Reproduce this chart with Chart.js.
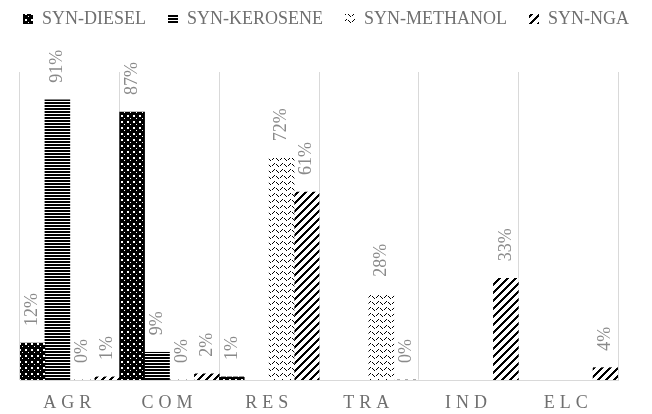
<!DOCTYPE html>
<html>
<head>
<meta charset="utf-8">
<script src="https://cdn.jsdelivr.net/npm/chart.js@4"></script>
<style>
html,body{margin:0;padding:0;background:#fff;}
#wrap{width:652px;height:414px;}
</style>
</head>
<body>
<div id="wrap"><canvas id="c" width="652" height="414"></canvas></div>
<script>
const categories = ["AGR", "COM", "RES", "TRA", "IND", "ELC"];
const seriesNames = ["SYN-DIESEL", "SYN-KEROSENE", "SYN-METHANOL", "SYN-NGA"];
const synDiesel   = [12, 87, 1, null, null, null];
const synKerosene = [91, 9, null, null, null, null];
const synMethanol = [0, 0, 72, 28, null, null];
const synNGA      = [1, 2, 61, 0, 33, 4];
const yTicks = [0, 100];

function makePattern(w, h, painter) {
  const cv = document.createElement('canvas');
  cv.width = w; cv.height = h;
  const g = cv.getContext('2d');
  painter(g, w, h);
  return g.createPattern(cv, 'repeat');
}
const pDiesel = makePattern(6, 6, (g) => {
  g.fillStyle = '#000'; g.fillRect(0, 0, 6, 6);
  g.fillStyle = '#fff'; g.fillRect(1, 1, 2, 2); g.fillRect(4, 4, 1, 1);
});
const pKerosene = makePattern(3, 3, (g) => {
  g.fillStyle = '#fff'; g.fillRect(0, 0, 3, 3);
  g.fillStyle = '#000'; g.fillRect(0, 0, 3, 2);
});
const pMethanol = makePattern(8, 6, (g) => {
  g.fillStyle = '#fff'; g.fillRect(0, 0, 8, 6);
  g.fillStyle = '#000';
  const ys = [3, 2, 1, 1, 2, 3, 4, 4];
  for (let x = 0; x < 8; x++) { if (x % 4 !== 3) g.fillRect(x, ys[x], 1, 1); }
});
const pNGA = makePattern(8, 8, (g) => {
  g.fillStyle = '#fff'; g.fillRect(0, 0, 8, 8);
  g.fillStyle = '#000';
  for (let x = 0; x < 8; x++) for (let y = 0; y < 8; y++) {
    if ((x + y) % 8 < 3) g.fillRect(x, y, 1, 1);
  }
});

const labelPlugin = {
  id: 'vlabels',
  afterDatasetsDraw(chart) {
    const ctx = chart.ctx;
    ctx.save();
    ctx.font = '18px "Liberation Serif"';
    ctx.fillStyle = '#8a8a8a';
    ctx.textAlign = 'left';
    ctx.textBaseline = 'middle';
    chart.data.datasets.forEach((ds, i) => {
      const meta = chart.getDatasetMeta(i);
      meta.data.forEach((bar, j) => {
        const v = ds.data[j];
        if (v === null || v === undefined) return;
        ctx.save();
        ctx.translate(bar.x, bar.y - 17);
        ctx.rotate(-Math.PI / 2);
        ctx.fillText(v + '%', 0, 0);
        ctx.restore();
      });
    });
    ctx.restore();
  }
};

const legendGap = {
  id: 'legendGap',
  beforeInit(chart) {
    const orig = chart.legend.fit;
    chart.legend.fit = function () { orig.call(this); this.height += 34; };
  },
  afterLayout(chart) {
    const sx = chart.scales.x;
    if (!sx._spaced) {
      const od = sx.drawLabels;
      sx.drawLabels = function (area) {
        const c = this.ctx; const prev = c.letterSpacing;
        c.letterSpacing = '5px'; od.call(this, area); c.letterSpacing = prev || '0px';
      };
      sx._spaced = true;
    }
  }
};

new Chart(document.getElementById('c'), {
  type: 'bar',
  data: {
    labels: categories,
    datasets: [
      { label: seriesNames[0], data: synDiesel, backgroundColor: pDiesel },
      { label: seriesNames[1], data: synKerosene, backgroundColor: pKerosene },
      { label: seriesNames[2], data: synMethanol, backgroundColor: pMethanol },
      { label: seriesNames[3], data: synNGA, backgroundColor: pNGA }
    ]
  },
  options: {
    responsive: false,
    animation: false,
    devicePixelRatio: 1,
    layout: { padding: { top: -12, left: 0, right: 0, bottom: 0 } },
    datasets: { bar: { categoryPercentage: 1, barPercentage: 1, borderWidth: 0 } },
    plugins: {
      legend: {
        position: 'top',
        labels: {
          boxWidth: 10, boxHeight: 10, padding: 22,
          color: '#6f6f6f',
          font: { family: '"Liberation Serif"', size: 18 }
        }
      },
      tooltip: { enabled: false }
    },
    scales: {
      x: {
        grid: { display: true, offset: true, color: '#d9d9d9', lineWidth: 1, drawTicks: false },
        border: { display: true, color: '#d9d9d9' },
        ticks: { color: '#6f6f6f', padding: 12, font: { family: '"Liberation Serif"', size: 18 } },
        afterFit(s) { s.height = 34; }
      },
      y: {
        position: 'left',
        min: yTicks[0], max: yTicks[1],
        grid: { display: false }, border: { display: false },
        ticks: { display: false },
        afterFit(s) { s.width = 20; }
      },
      yRight: {
        type: 'linear', position: 'right',
        min: yTicks[0], max: yTicks[1],
        grid: { display: false }, border: { display: false },
        ticks: { display: false },
        afterFit(s) { s.width = 34; }
      }
    }
  },
  plugins: [labelPlugin, legendGap]
});
</script>
</body>
</html>
